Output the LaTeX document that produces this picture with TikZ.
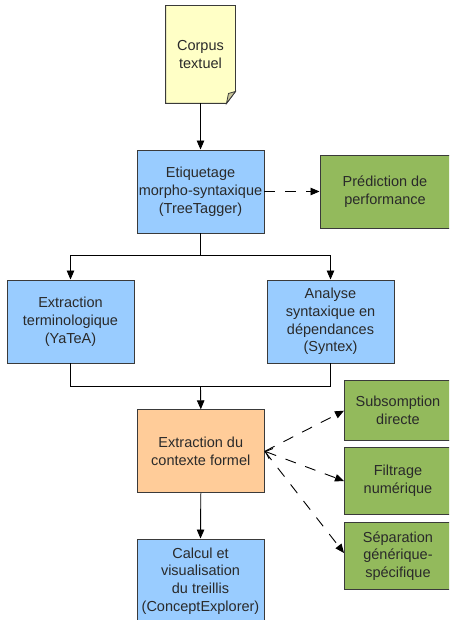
\documentclass[tikz,border=0pt]{standalone}
\usepackage{fontspec}
\setmainfont{Liberation Sans}
\usetikzlibrary{arrows.meta,calc}
\definecolor{boxblue}{HTML}{99CCFF}
\definecolor{boxgreen}{HTML}{93BA5C}
\definecolor{boxorange}{HTML}{FFCC99}
\definecolor{boxyellow}{HTML}{FFFFC6}
\definecolor{foldtone}{HTML}{C9C69A}
\definecolor{edge}{HTML}{3A3A3A}
\definecolor{ink}{HTML}{2A2A2A}
\begin{document}
\begin{tikzpicture}[x=1pt,y=-1pt,
  box/.style={draw=edge,line width=0.95pt,align=center,text=ink,
    font=\fontsize{14.5}{17.8}\selectfont,inner sep=0pt},
  bluebox/.style={box,fill=boxblue,minimum width=127pt,minimum height=83pt},
  greenbox/.style={box,fill=boxgreen,minimum width=107pt},
  flow/.style={draw=black,line width=0.9pt,-{Triangle[length=9pt,width=7.5pt]}},
  plain/.style={draw=black,line width=0.9pt},
  dashlink/.style={draw=black,line width=0.9pt,dash pattern=on 11pt off 10pt,
    -{Triangle[length=9pt,width=7.5pt]}}]
\useasboundingbox (0,0) rectangle (449,620);
\begin{scope}
\clip (0,0) rectangle (449,620);

% document symbol for the text corpus, with a folded lower corner
\node[box,draw=none,minimum width=69pt,minimum height=97pt] (corpus) at (200.5,54.5) {};
\fill[boxyellow,draw=edge,line width=0.95pt]
  (corpus.north west) -- (corpus.north east)
  -- ($(corpus.south east)+(0,-12)$) -- ($(corpus.south east)+(-9,0)$)
  -- (corpus.south west) -- cycle;
\fill[foldtone,draw=edge,line width=0.8pt]
  ($(corpus.south east)+(-9,0)$) -- ($(corpus.south east)+(0,-12)$)
  -- ($(corpus.south east)+(-7,-10)$) -- cycle;
\node[box,draw=none] at (corpus.center) {Corpus\\textuel};

% processing steps
\node[bluebox] (tag) at (200.5,191.5) {Etiquetage\\morpho-syntaxique\\(TreeTagger)};
\node[greenbox,minimum width=130pt,minimum height=73pt] (pred) at (385,191.5) {Prédiction de\\performance};
\node[bluebox] (term) at (70.5,321.5) {Extraction\\terminologique\\(YaTeA)};
\node[bluebox] (synt) at (330.5,321.5) {Analyse\\syntaxique en\\dépendances\\(Syntex)};
\node[box,fill=boxorange,minimum width=127pt,minimum height=83pt] (ctx) at (200.8,451.3) {Extraction du\\contexte formel};
\node[greenbox,minimum height=60pt,anchor=west] (subs) at (344,410.7) {Subsomption\\directe};
\node[greenbox,minimum height=66.7pt,anchor=west] (filt) at (344,481) {Filtrage\\numérique};
\node[greenbox,minimum height=66.7pt,anchor=west] (sep) at (344,556) {Séparation\\générique-\\spécifique};
\node[bluebox,minimum height=84pt] (calc) at (200.5,581) {Calcul et\\visualisation\\du treillis\\(ConceptExplorer)};

% connectors
\coordinate (split) at (200.5,255);
\coordinate (merge) at (200.5,386.5);
\draw[flow] (corpus.south) -- (tag.north);
\draw[plain] (tag.south) -- (split);
\draw[flow] (split) -| (term.north);
\draw[flow] (split) -| (synt.north);
\draw[dashlink] (tag.east) -- (pred.west);
\draw[plain] (term.south) |- (merge);
\draw[plain] (synt.south) |- (merge);
\draw[flow] (merge) -- (ctx.north);
\draw[flow] (ctx.south) -- (calc.north);
\draw[dashlink] (ctx.east) -- (subs.west);
\draw[dashlink,{Straight Barb[length=6pt,width=11pt]}-{Triangle[length=9pt,width=7.5pt]}] (ctx.east) -- (filt.west);
\draw[dashlink] (ctx.east) -- ($(sep.west)+(0,-3)$);
\end{scope}
\end{tikzpicture}
\end{document}
